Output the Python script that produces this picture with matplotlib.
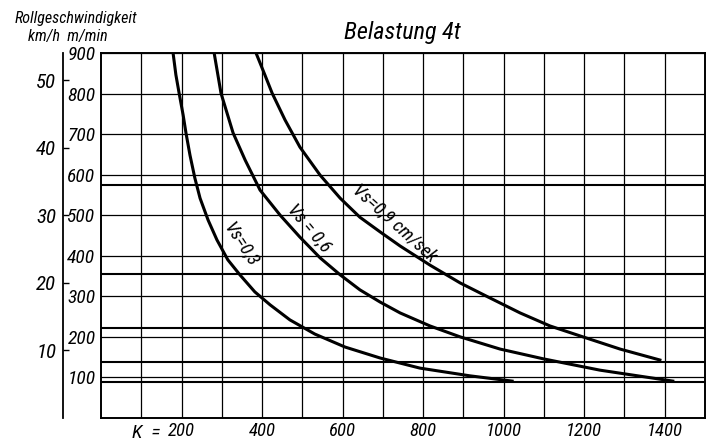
import matplotlib
matplotlib.use('Agg')
import matplotlib.pyplot as plt
from matplotlib import font_manager as fm

# K values and rolling speed (m/min)
k_03 = [179, 186, 194, 204, 211, 221, 233, 246, 266, 288, 315, 345, 382, 420,
        469, 531, 606, 693, 792, 916, 1021]
v_03 = [900, 846, 801, 747, 703, 648, 592, 542, 488, 439, 390, 353, 311, 279,
        242, 207, 175, 148, 123, 104, 91]

k_06 = [281, 298, 328, 358, 395, 445, 494, 544, 594, 643, 693, 743, 817, 892,
        991, 1098, 1239, 1420]
v_06 = [900, 801, 703, 636, 562, 500, 446, 395, 353, 316, 286, 259, 227, 200,
        170, 146, 118, 91]

k_09 = [385, 407, 425, 457, 494, 544, 594, 643, 693, 743, 817, 892, 966, 1041,
        1115, 1197, 1289, 1388]
v_09 = [900, 846, 801, 735, 668, 599, 542, 495, 459, 424, 377, 333, 296, 259,
        227, 200, 170, 143]

curve_labels = ['Vs=0,3', 'Vs = 0,6', 'Vs=0,9 cm/sek']
# heavy horizontal lines (m/min)
speed_levels = [88, 138, 223, 356, 574]

x_ticks = list(range(100, 1500, 100))
x_labels = [str(t) if t % 200 == 0 else '' for t in x_ticks]
y_ticks = list(range(100, 1000, 100))
kmh_ticks = [10, 20, 30, 40, 50]


def find_font():
    prefs = ['liberation sans narrow', 'roboto condensed', 'dejavu sans condensed',
             'open sans condensed', 'noto sans condensed']
    cands = []
    for f in fm.fontManager.ttflist:
        if f.style not in ('italic', 'oblique'):
            continue
        if 'bold' in str(f.weight) or (isinstance(f.weight, int) and f.weight > 500):
            continue
        name = f.name.lower()
        if 'condensed' in str(f.stretch).lower() and name.startswith('dejavu sans') \
                and 'mono' not in name:
            name = 'dejavu sans condensed'
        for i, p in enumerate(prefs):
            if name == p:
                cands.append((i, f.fname))
    if cands:
        return sorted(cands)[0][1], True
    for f in fm.fontManager.ttflist:
        if f.name == 'Liberation Sans' and f.style == 'italic' and f.weight in (400, 'normal'):
            return f.fname, False
    return None, False


FONT_PATH, NARROW = find_font()
SC = 1.0 if NARROW else 0.88


def fp(size):
    if FONT_PATH:
        return fm.FontProperties(fname=FONT_PATH, size=size * SC)
    return fm.FontProperties(family='DejaVu Sans', style='italic', size=size * 0.82)


W, H = 713, 441
fig = plt.figure(figsize=(W / 100, H / 100), dpi=100)
ax = fig.add_axes([101 / W, (H - 418) / H, 604 / W, 365 / H])
ax.set_xlim(0, 1500)
ax.set_ylim(0, 900)

ax.set_xticks(x_ticks)
ax.set_xticklabels(x_labels)
ax.set_yticks(y_ticks)
ax.set_yticklabels([str(t) for t in y_ticks])
for lab in ax.get_xticklabels():
    lab.set_fontproperties(fp(13.5))
for lab in ax.get_yticklabels():
    lab.set_fontproperties(fp(14))
ax.tick_params(axis='y', length=0, pad=4)
ax.tick_params(axis='x', length=0, pad=3)
ax.grid(True, color='black', lw=0.9)
for s in ax.spines.values():
    s.set_linewidth(1.4)

for lv in speed_levels:
    ax.axhline(lv, color='black', lw=1.5)

for kk, vv in [(k_03, v_03), (k_06, v_06), (k_09, v_09)]:
    ax.plot(kk, vv, color='black', lw=2.2, solid_joinstyle='round')

ax.text(148, -14, 'K  =', ha='right', va='top', fontproperties=fp(14))

ax.text(347, 429, curve_labels[0], rotation=-57, ha='center', va='center',
        rotation_mode='anchor', fontproperties=fp(13.5))
ax.text(518, 468, curve_labels[1], rotation=-50, ha='center', va='center',
        rotation_mode='anchor', fontproperties=fp(13.5))
ax.text(730, 480, curve_labels[2], rotation=-42, ha='center', va='center',
        rotation_mode='anchor', fontproperties=fp(13.5))

# km/h scale on a separate spine further left
f = 1000 / 60
sec = ax.secondary_yaxis((63 - 101) / 604, functions=(lambda m: m / f, lambda k: k * f))
sec.set_yticks(kmh_ticks)
sec.set_yticklabels([str(t) for t in kmh_ticks])
for lab in sec.get_yticklabels():
    lab.set_fontproperties(fp(15))
sec.tick_params(direction='in', length=4, width=1, pad=5)
sec.spines['left'].set_linewidth(1.3)

fig.text(402 / W, 1 - 33 / H, 'Belastung 4t', ha='center', va='center', fontproperties=fp(17.5))
fig.text(76 / W, 1 - 19 / H, 'Rollgeschwindigkeit', ha='center', va='center', fontproperties=fp(11.5))
fig.text(68 / W, 1 - 37 / H, 'km/h  m/min', ha='center', va='center', fontproperties=fp(11.5))

plt.savefig('out.png', dpi=100)
